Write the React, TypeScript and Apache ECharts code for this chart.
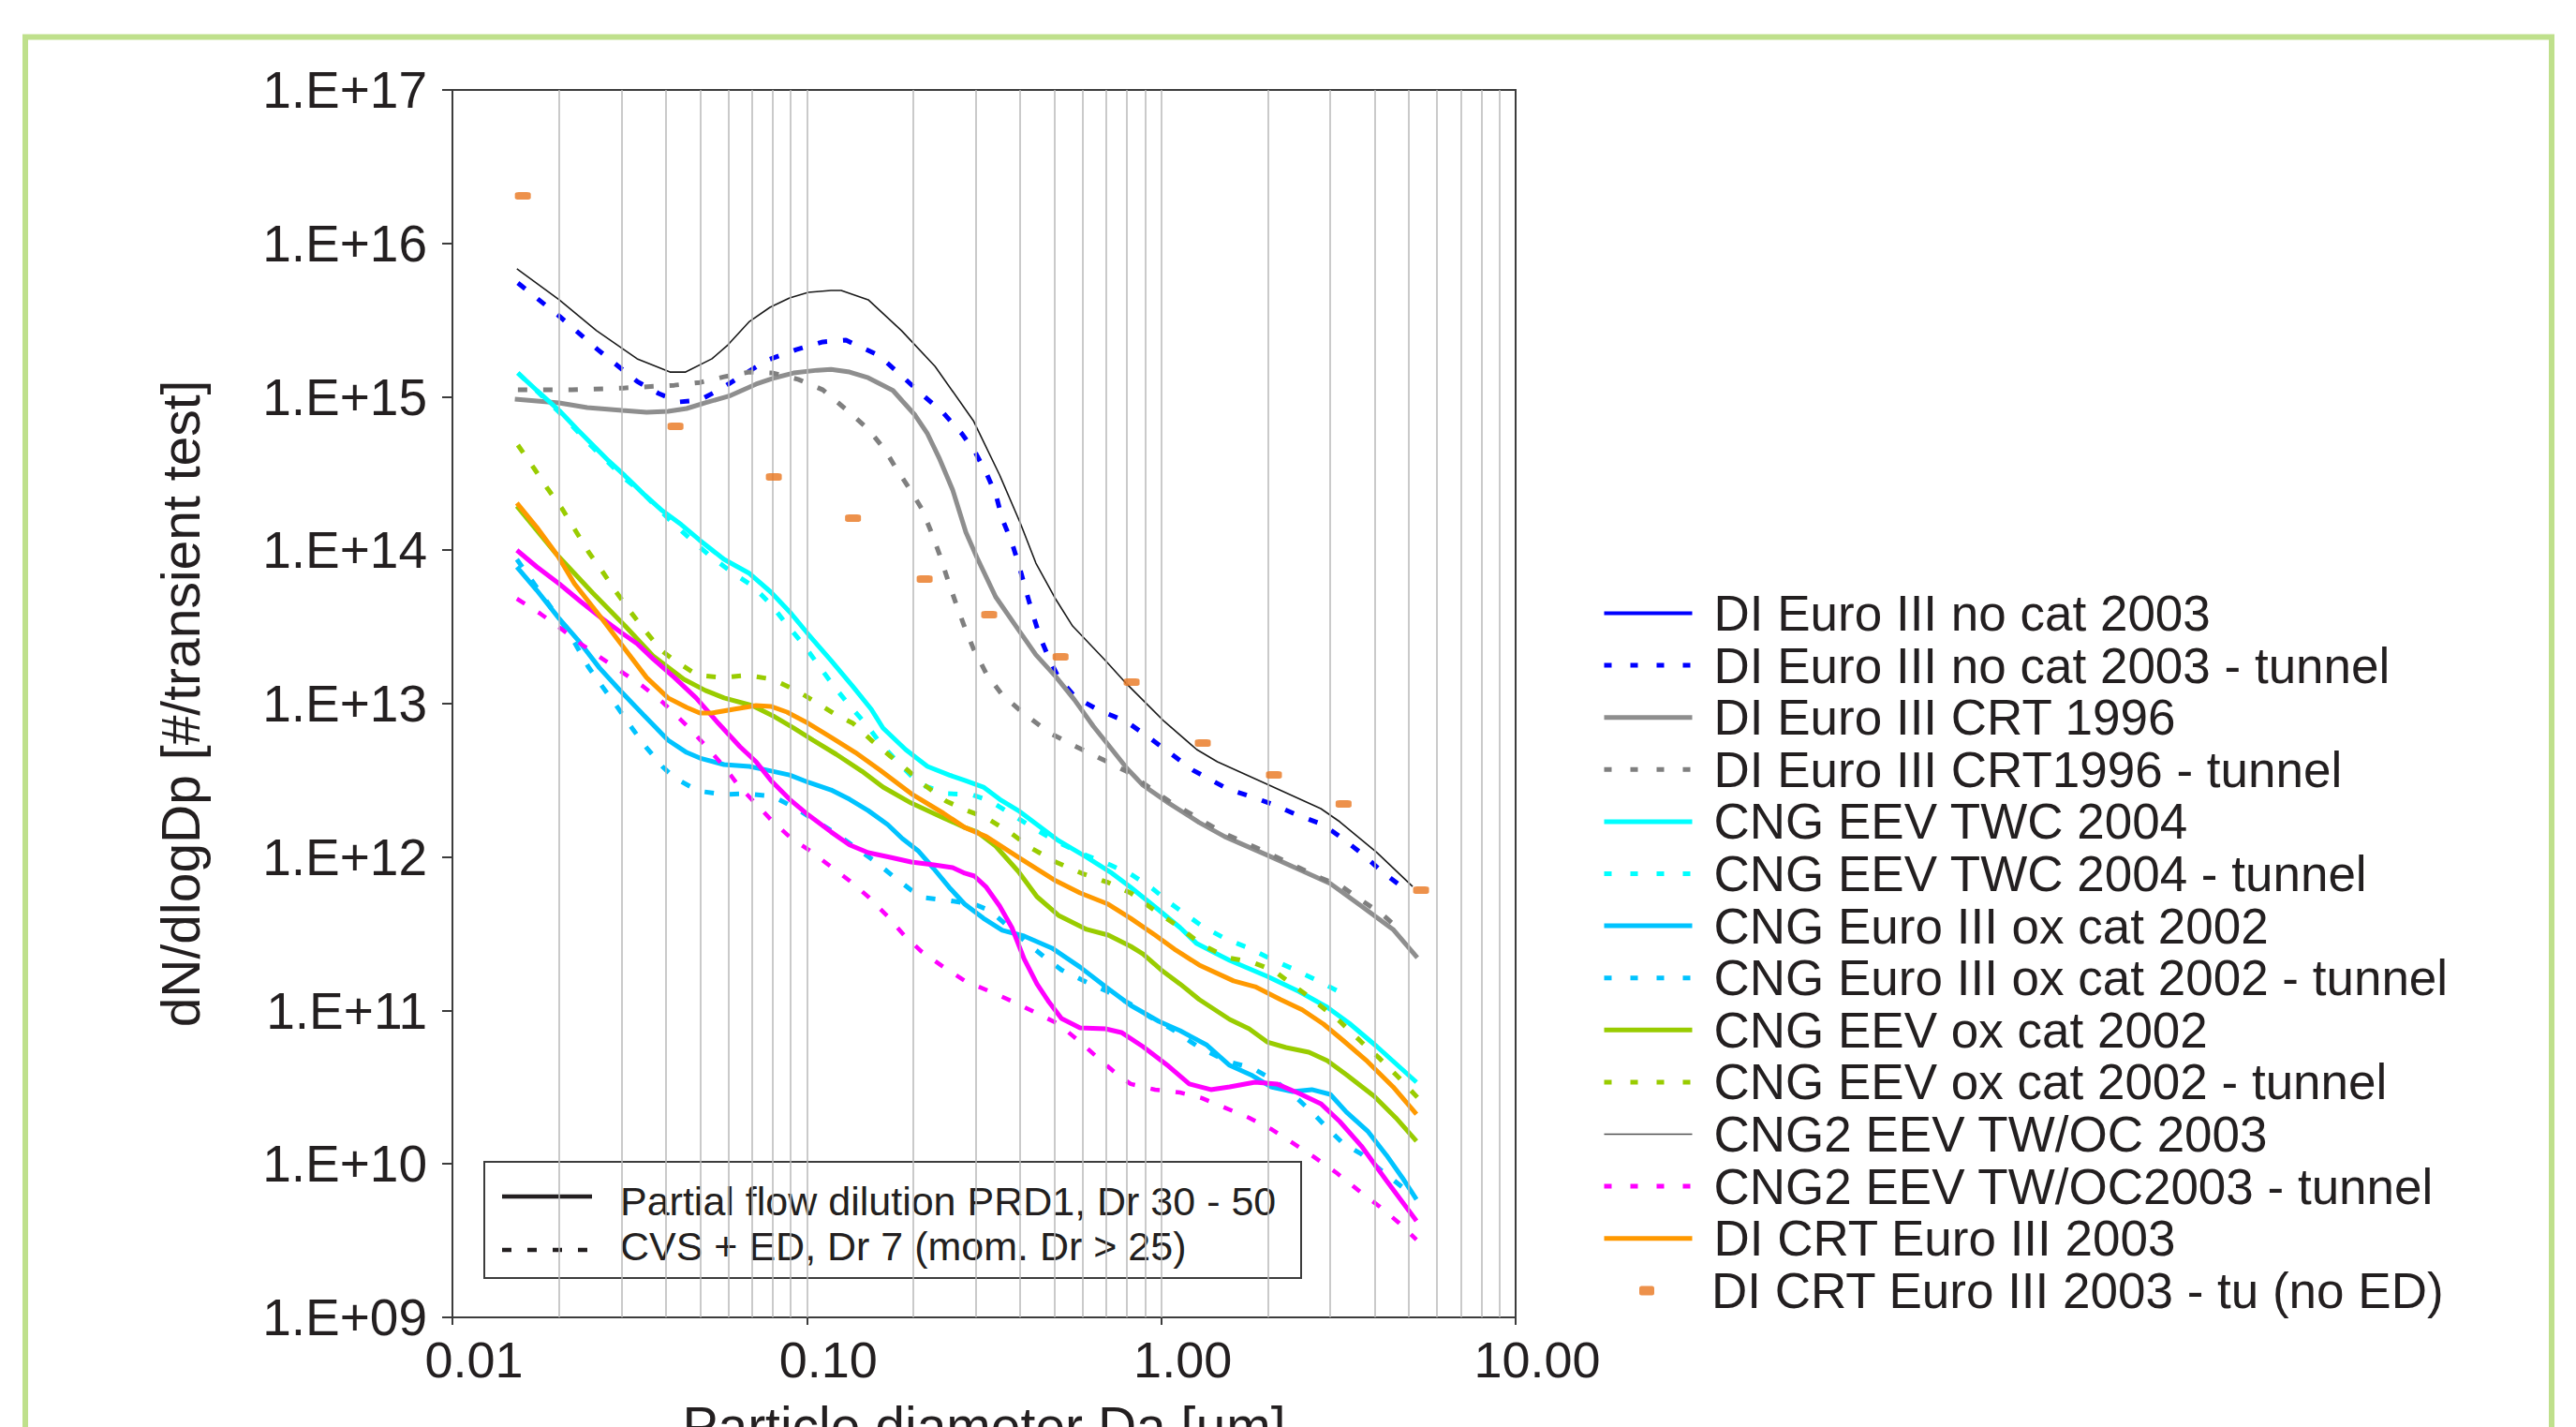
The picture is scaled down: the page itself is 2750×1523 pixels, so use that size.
import React, { useEffect, useRef } from "react";
import * as echarts from "echarts";

const FONT = "'Liberation Sans', Arial, Helvetica, sans-serif";
const INK = "#231f20";
const AXIS = "#3c3c3c";

const N1 = "DI Euro III no cat 2003";
const N2 = "DI Euro III no cat 2003 - tunnel";
const N3 = "DI Euro III CRT 1996";
const N4 = "DI Euro III CRT1996 - tunnel";
const N5 = "CNG EEV TWC 2004";
const N6 = "CNG EEV TWC 2004 - tunnel";
const N7 = "CNG Euro III ox cat 2002";
const N8 = "CNG Euro III ox cat 2002 - tunnel";
const N9 = "CNG EEV ox cat 2002";
const N10 = "CNG EEV ox cat 2002 - tunnel";
const N11 = "CNG2 EEV TW/OC 2003";
const N12 = "CNG2 EEV TW/OC2003 - tunnel";
const N13 = "DI CRT Euro III 2003";
const N14 = "DI CRT Euro III 2003 - tu (no ED)";

// x: particle diameter [um], y: dN/dlogDp [#/transient test]
const noCatX = [0.0152, 0.02, 0.0255, 0.0332, 0.0411, 0.0455, 0.054, 0.0599, 0.0689, 0.0787, 0.0894, 0.101, 0.117, 0.125, 0.149, 0.185, 0.23, 0.295, 0.35, 0.4, 0.443, 0.501, 0.562, 0.696, 0.8, 1.02, 1.26, 1.44, 1.99, 2.82, 3.19, 4.06, 5.12];
const noCatY = [6.82e15, 4.29e15, 2.7e15, 1.77e15, 1.45e15, 1.45e15, 1.77e15, 2.18e15, 3.1e15, 3.83e15, 4.41e15, 4.8e15, 4.93e15, 4.93e15, 4.29e15, 2.7e15, 1.58e15, 6.99e14, 3.09e14, 1.51e14, 8.24e13, 4.9e13, 3.21e13, 1.91e13, 1.34e13, 7.66e12, 5.02e12, 4.18e12, 2.98e12, 2.07e12, 1.7e12, 1.07e12, 6.44e11];

const noCatTunX = [0.0153, 0.0201, 0.0257, 0.0332, 0.0382, 0.0436, 0.0499, 0.0574, 0.066, 0.0777, 0.0934, 0.111, 0.129, 0.136, 0.159, 0.179, 0.202, 0.243, 0.274, 0.299, 0.321, 0.341, 0.356, 0.379, 0.398, 0.415, 0.433, 0.454, 0.483, 0.513, 0.573, 0.667, 0.796, 0.932, 1.07, 1.23, 1.54, 1.82, 2.08, 2.42, 2.86, 3.25, 3.71, 4.19, 4.79];
const noCatTunY = [5.52e15, 3.33e15, 2.03e15, 1.26e15, 1.05e15, 9.26e14, 9.52e14, 1.13e15, 1.39e15, 1.74e15, 2.03e15, 2.28e15, 2.34e15, 2.21e15, 1.87e15, 1.47e15, 1.14e15, 7.82e14, 5.74e14, 4.33e14, 3.18e14, 2.33e14, 1.6e14, 1.12e14, 7.79e13, 5.48e13, 3.91e13, 2.75e13, 1.96e13, 1.48e13, 1.1e13, 9.06e12, 7.66e12, 5.94e12, 4.68e12, 3.68e12, 2.78e12, 2.45e12, 2.19e12, 1.88e12, 1.63e12, 1.32e12, 1.04e12, 8.07e11, 6.36e11];

const crtX = [0.015, 0.02, 0.024, 0.0301, 0.0353, 0.0406, 0.0458, 0.0517, 0.061, 0.0719, 0.0812, 0.0917, 0.107, 0.117, 0.132, 0.149, 0.175, 0.186, 0.202, 0.219, 0.237, 0.258, 0.281, 0.302, 0.341, 0.395, 0.443, 0.504, 0.569, 0.643, 0.709, 0.8, 0.888, 1.05, 1.28, 1.51, 1.99, 2.45, 3.0, 3.67, 4.51, 5.28];
const crtY = [9.65e14, 9.13e14, 8.51e14, 8.15e14, 7.93e14, 8.04e14, 8.39e14, 9.13e14, 1.02e15, 1.21e15, 1.33e15, 1.43e15, 1.49e15, 1.51e15, 1.45e15, 1.33e15, 1.1e15, 9.39e14, 7.6e14, 5.74e14, 3.93e14, 2.47e14, 1.31e14, 8.97e13, 4.97e13, 3.04e13, 2.08e13, 1.5e13, 1.06e13, 7.14e12, 5.39e12, 3.79e12, 2.94e12, 2.25e12, 1.68e12, 1.36e12, 1.03e12, 8.3e11, 6.72e11, 4.8e11, 3.38e11, 2.21e11];

const crtTunX = [0.0153, 0.0217, 0.0303, 0.0423, 0.0499, 0.0584, 0.0689, 0.0802, 0.0945, 0.111, 0.129, 0.149, 0.166, 0.18, 0.196, 0.211, 0.224, 0.237, 0.25, 0.263, 0.278, 0.295, 0.321, 0.356, 0.405, 0.483, 0.576, 0.687, 0.796, 1.05, 1.51, 1.99, 2.82, 3.23, 3.71, 4.24, 4.79];
const crtTunY = [1.11e15, 1.11e15, 1.14e15, 1.19e15, 1.24e15, 1.35e15, 1.45e15, 1.43e15, 1.3e15, 1.11e15, 8.27e14, 6.16e14, 4.52e14, 3.32e14, 2.47e14, 1.86e14, 1.33e14, 9.35e13, 6.4e13, 4.56e13, 3.21e13, 2.29e13, 1.57e13, 1.14e13, 8.81e12, 6.47e12, 5.24e12, 4.3e12, 3.63e12, 2.32e12, 1.42e12, 1.07e12, 7.31e11, 6.44e11, 5.15e11, 4.17e11, 3.24e11];

const twcX = [0.0153, 0.0173, 0.02, 0.0226, 0.0276, 0.0307, 0.0346, 0.0391, 0.0442, 0.0499, 0.0584, 0.0689, 0.0792, 0.0894, 0.101, 0.117, 0.135, 0.152, 0.164, 0.19, 0.219, 0.252, 0.279, 0.315, 0.35, 0.395, 0.446, 0.513, 0.616, 0.726, 0.82, 0.961, 1.13, 1.26, 1.56, 1.99, 2.45, 2.94, 3.39, 4.06, 5.25];
const twcY = [1.43e15, 1.1e15, 8.15e14, 6.07e14, 3.82e14, 3.05e14, 2.33e14, 1.81e14, 1.47e14, 1.16e14, 8.72e13, 7.06e13, 5.33e13, 3.97e13, 2.83e13, 1.91e13, 1.29e13, 9.19e12, 6.94e12, 5.02e12, 3.9e12, 3.43e12, 3.16e12, 2.86e12, 2.38e12, 2.01e12, 1.63e12, 1.28e12, 9.97e11, 7.85e11, 6.36e11, 4.73e11, 3.47e11, 2.73e11, 2.12e11, 1.67e11, 1.33e11, 1.05e11, 8.27e10, 5.82e10, 3.41e10];

const twcTunX = [0.0153, 0.02, 0.0245, 0.0305, 0.0348, 0.0391, 0.0423, 0.0478, 0.054, 0.0621, 0.0701, 0.0792, 0.0879, 0.0974, 0.107, 0.118, 0.132, 0.147, 0.161, 0.179, 0.197, 0.212, 0.25, 0.291, 0.329, 0.379, 0.433, 0.504, 0.605, 0.717, 0.82, 0.943, 1.07, 1.3, 1.52, 1.77, 2.08, 2.39, 2.77, 3.13];
const twcTunY = [1.43e15, 7.93e14, 4.85e14, 2.96e14, 2.3e14, 1.76e14, 1.47e14, 1.14e14, 8.97e13, 7.06e13, 5.88e13, 4.44e13, 3.26e13, 2.46e13, 1.83e13, 1.34e13, 9.72e12, 7.34e12, 5.54e12, 4.24e12, 3.39e12, 2.94e12, 2.59e12, 2.56e12, 2.32e12, 1.9e12, 1.56e12, 1.27e12, 1.04e12, 8.9e11, 7.74e11, 6.26e11, 4.93e11, 3.57e11, 2.93e11, 2.55e11, 2.12e11, 1.84e11, 1.56e11, 1.35e11];

const oxX = [0.0152, 0.0173, 0.02, 0.0226, 0.026, 0.0299, 0.0346, 0.0406, 0.0458, 0.0499, 0.0584, 0.0689, 0.0777, 0.0894, 0.101, 0.117, 0.132, 0.149, 0.169, 0.186, 0.206, 0.228, 0.252, 0.279, 0.315, 0.356, 0.41, 0.492, 0.59, 0.696, 0.82, 0.984, 1.13, 1.34, 1.56, 1.81, 2.04, 2.35, 2.66, 3.0, 3.33, 3.82, 4.32, 4.79, 5.25];
const oxY = [7.79e13, 5.48e13, 3.59e13, 2.6e13, 1.71e13, 1.2e13, 8.45e12, 5.78e12, 4.81e12, 4.42e12, 4.01e12, 3.9e12, 3.68e12, 3.43e12, 3.07e12, 2.74e12, 2.38e12, 2.01e12, 1.63e12, 1.32e12, 1.1e12, 8.42e11, 6.36e11, 4.93e11, 3.99e11, 3.33e11, 3.06e11, 2.55e11, 1.92e11, 1.43e11, 1.08e11, 8.51e10, 7.39e10, 5.99e10, 4.39e10, 3.76e10, 3.18e10, 2.96e10, 3.05e10, 2.84e10, 2.18e10, 1.64e10, 1.14e10, 8.13e9, 5.88e9];

const oxTunX = [0.0152, 0.017, 0.0204, 0.0223, 0.0242, 0.0265, 0.029, 0.0318, 0.0353, 0.0391, 0.0423, 0.0493, 0.0581, 0.068, 0.0802, 0.0934, 0.121, 0.154, 0.175, 0.197, 0.215, 0.25, 0.297, 0.329, 0.42, 0.474, 0.523, 0.605, 0.696, 0.82, 0.926, 1.09, 1.28, 1.54, 1.81, 2.08, 2.35, 2.66, 3.0, 3.25, 3.67, 4.14, 4.79];
const oxTunY = [8.72e13, 6.05e13, 3.35e13, 2.42e13, 1.73e13, 1.29e13, 9.72e12, 7.14e12, 5.16e12, 3.9e12, 3.29e12, 2.7e12, 2.56e12, 2.59e12, 2.49e12, 2.07e12, 1.42e12, 9.55e11, 7.52e11, 6.09e11, 5.44e11, 5.22e11, 4.93e11, 4.47e11, 2.73e11, 2.18e11, 1.84e11, 1.56e11, 1.35e11, 1.1e11, 9.13e10, 7.39e10, 5.74e10, 4.65e10, 4.21e10, 3.51e10, 2.84e10, 2.18e10, 1.64e10, 1.37e10, 1.16e10, 9.22e9, 7.06e9];

const eevX = [0.0152, 0.0195, 0.0249, 0.0307, 0.0368, 0.045, 0.0517, 0.0584, 0.0701, 0.0812, 0.0917, 0.104, 0.121, 0.143, 0.164, 0.197, 0.243, 0.279, 0.302, 0.341, 0.395, 0.446, 0.513, 0.616, 0.709, 0.82, 0.888, 1.0, 1.13, 1.28, 1.56, 1.77, 1.99, 2.25, 2.61, 2.94, 3.33, 3.99, 4.59, 5.25];
const eevY = [1.94e14, 9.62e13, 5.26e13, 3.21e13, 2.05e13, 1.44e13, 1.22e13, 1.09e13, 9.72e12, 8.21e12, 6.94e12, 5.78e12, 4.68e12, 3.63e12, 2.86e12, 2.25e12, 1.8e12, 1.56e12, 1.46e12, 1.18e12, 8.07e11, 5.52e11, 4.17e11, 3.38e11, 3.1e11, 2.62e11, 2.34e11, 1.84e11, 1.49e11, 1.18e11, 8.75e10, 7.6e10, 6.24e10, 5.74e10, 5.35e10, 4.71e10, 3.82e10, 2.76e10, 2.0e10, 1.41e10];

const eevTunX = [0.0153, 0.017, 0.0186, 0.0204, 0.0223, 0.0242, 0.0265, 0.029, 0.0318, 0.0353, 0.0391, 0.0423, 0.0493, 0.0574, 0.068, 0.0802, 0.0934, 0.107, 0.121, 0.135, 0.152, 0.172, 0.194, 0.215, 0.247, 0.283, 0.321, 0.379, 0.428, 0.504, 0.605, 0.709, 0.82, 0.961, 1.11, 1.3, 1.54, 1.81, 2.08, 2.39, 2.7, 3.19, 3.67, 4.14, 4.68, 5.28];
const eevTunY = [4.85e14, 3.41e14, 2.5e14, 1.86e14, 1.33e14, 9.76e13, 7.26e13, 5.33e13, 3.97e13, 2.91e13, 2.2e13, 1.91e13, 1.53e13, 1.48e13, 1.53e13, 1.44e13, 1.22e13, 1.01e13, 8.45e12, 7.44e12, 5.78e12, 4.55e12, 3.63e12, 2.94e12, 2.32e12, 2.01e12, 1.8e12, 1.42e12, 1.15e12, 9.29e11, 7.74e11, 6.82e11, 5.84e11, 4.47e11, 3.57e11, 2.69e11, 2.21e11, 2.06e11, 1.82e11, 1.43e11, 1.16e11, 8.51e10, 6.24e10, 4.85e10, 3.66e10, 2.72e10];

const cng2X = [0.0152, 0.0173, 0.02, 0.023, 0.026, 0.0299, 0.0332, 0.0368, 0.0423, 0.0487, 0.0563, 0.0648, 0.0719, 0.0792, 0.0894, 0.101, 0.117, 0.132, 0.149, 0.172, 0.197, 0.228, 0.258, 0.279, 0.297, 0.321, 0.35, 0.379, 0.41, 0.446, 0.483, 0.523, 0.59, 0.696, 0.772, 0.888, 1.05, 1.2, 1.38, 1.56, 1.84, 2.12, 2.45, 2.82, 3.19, 3.67, 4.32, 5.25];
const cng2Y = [1.0e14, 7.79e13, 6.05e13, 4.63e13, 3.7e13, 2.91e13, 2.46e13, 1.96e13, 1.48e13, 1.09e13, 7.44e12, 5.24e12, 4.18e12, 3.16e12, 2.38e12, 1.88e12, 1.46e12, 1.2e12, 1.07e12, 9.97e11, 9.29e11, 8.9e11, 8.54e11, 7.85e11, 7.52e11, 6.36e11, 4.8e11, 3.47e11, 2.18e11, 1.49e11, 1.13e11, 8.87e10, 7.71e10, 7.6e10, 7.19e10, 5.82e10, 4.33e10, 3.32e10, 3.05e10, 3.18e10, 3.41e10, 3.32e10, 2.88e10, 2.47e10, 1.89e10, 1.31e10, 7.79e9, 4.26e9];

const cng2TunX = [0.0152, 0.0177, 0.0204, 0.023, 0.0265, 0.0303, 0.0346, 0.0394, 0.0469, 0.0524, 0.0584, 0.064, 0.0719, 0.0802, 0.0906, 0.102, 0.117, 0.132, 0.15, 0.169, 0.188, 0.21, 0.243, 0.279, 0.329, 0.386, 0.449, 0.513, 0.59, 0.667, 0.753, 0.82, 0.961, 1.13, 1.3, 1.51, 1.77, 2.04, 2.35, 2.7, 3.13, 3.67, 4.14, 4.68, 5.25];
const cng2TunY = [4.83e13, 3.86e13, 3.04e13, 2.46e13, 1.96e13, 1.59e13, 1.29e13, 1.01e13, 6.84e12, 5.16e12, 3.9e12, 2.94e12, 2.22e12, 1.7e12, 1.32e12, 1.1e12, 8.66e11, 7.01e11, 5.44e11, 4.11e11, 3.1e11, 2.44e11, 1.92e11, 1.56e11, 1.33e11, 1.13e11, 9.52e10, 8.16e10, 6.24e10, 4.85e10, 3.82e10, 3.32e10, 3.05e10, 2.92e10, 2.69e10, 2.33e10, 2.0e10, 1.69e10, 1.37e10, 1.11e10, 8.72e9, 6.49e9, 5.26e9, 4.14e9, 3.21e9];

const diCrtX = [0.0152, 0.0173, 0.0198, 0.0221, 0.026, 0.0307, 0.0353, 0.0406, 0.0458, 0.0499, 0.054, 0.0621, 0.0719, 0.0792, 0.0879, 0.101, 0.117, 0.137, 0.161, 0.197, 0.243, 0.279, 0.321, 0.395, 0.504, 0.59, 0.709, 0.82, 0.961, 1.09, 1.28, 1.6, 1.84, 2.17, 2.5, 2.87, 3.25, 3.82, 4.51, 5.25];
const diCrtY = [2.03e14, 1.41e14, 9.22e13, 6.05e13, 3.75e13, 2.26e13, 1.48e13, 1.09e13, 9.45e12, 8.69e12, 8.69e12, 9.19e12, 9.72e12, 9.59e12, 8.81e12, 7.44e12, 6.03e12, 4.81e12, 3.68e12, 2.59e12, 1.93e12, 1.56e12, 1.36e12, 9.97e11, 7.01e11, 5.84e11, 4.93e11, 3.99e11, 3.1e11, 2.51e11, 1.98e11, 1.56e11, 1.43e11, 1.18e11, 1.01e11, 8.16e10, 6.42e10, 4.65e10, 3.18e10, 2.11e10];

const noEdX = [0.0158, 0.0426, 0.0807, 0.135, 0.215, 0.327, 0.52, 0.825, 1.31, 2.08, 3.27, 5.41];
const noEdY = [2.04e16, 6.42e14, 3.0e14, 1.62e14, 6.49e13, 3.8e13, 2.02e13, 1.38e13, 5.54e12, 3.43e12, 2.22e12, 6.09e11];

// vertical grid lines of the log x axis
const xGridValues = [0.02, 0.03, 0.04, 0.05, 0.06, 0.07, 0.08, 0.09, 0.1, 0.2, 0.3, 0.4, 0.5, 0.6, 0.7, 0.8, 0.9, 1, 2, 3, 4, 5, 6, 7, 8, 9];

const DASH = [10, 17];
const LEG_DASH = [8, 20];

function pairs(xs: number[], ys: number[]) {
  return xs.map((x, i) => [x, ys[i]]);
}

function lineSeries(name: string, xs: number[], ys: number[], color: string, width: number, dashed: boolean, z = 3) {
  return {
    name,
    type: "line",
    data: pairs(xs, ys),
    symbol: "none",
    showSymbol: false,
    smooth: false,
    silent: true,
    z,
    lineStyle: { color, width, type: dashed ? DASH : "solid" },
    itemStyle: { color },
    emphasis: { disabled: true },
  };
}

export default function App() {
  const ref = useRef<HTMLDivElement>(null);

  useEffect(() => {
    if (!ref.current) return;
    const chart = echarts.init(ref.current, null, { renderer: "svg" });

    const legendLine = (name: string, color: string, width: number, dashed: boolean) => ({
      name,
      itemStyle: { color: "rgba(0,0,0,0)", borderColor: "rgba(0,0,0,0)", borderWidth: 0, opacity: 0 },
      lineStyle: { color, width, type: dashed ? LEG_DASH : "solid", opacity: 1 },
    });

    const option: any = {
      animation: false,
      backgroundColor: "#ffffff",
      grid: {
        left: 483,
        top: 96,
        width: 1135,
        height: 1310,
        show: true,
        borderColor: AXIS,
        borderWidth: 2,
        backgroundColor: "transparent",
        containLabel: false,
        outerBoundsMode: "none",
      },
      xAxis: {
        type: "log",
        logBase: 10,
        min: 0.01,
        max: 10,
        axisLine: { show: true, onZero: false, lineStyle: { color: AXIS, width: 2 } },
        axisTick: { show: true, length: 8, lineStyle: { color: AXIS, width: 2 } },
        splitLine: { show: false },
        axisLabel: {
          formatter: (v: number) => v.toFixed(2),
          fontSize: 54,
          fontFamily: FONT,
          color: INK,
          margin: 18,
          padding: [0, 0, 0, 46],
        },
        name: "Particle diameter Da [µm]",
        nameLocation: "middle",
        nameGap: 87,
        nameTextStyle: { fontSize: 57, fontFamily: FONT, color: INK },
      },
      yAxis: {
        type: "log",
        logBase: 10,
        min: 1e9,
        max: 1e17,
        splitNumber: 8,
        axisLine: { show: true, onZero: false, lineStyle: { color: AXIS, width: 2 } },
        axisTick: { show: true, length: 11, lineStyle: { color: AXIS, width: 2 } },
        splitLine: { show: false },
        axisLabel: {
          formatter: (v: number) => "1.E+" + String(Math.round(Math.log10(v))).padStart(2, "0"),
          fontSize: 55,
          fontFamily: FONT,
          color: INK,
          margin: 27,
          padding: [0, 0, 7, 0],
        },
        name: "dN/dlogDp [#/transient test]",
        nameLocation: "middle",
        nameGap: 262,
        nameTextStyle: { fontSize: 57, fontFamily: FONT, color: INK },
      },
      legend: [
        {
          orient: "vertical",
          left: 1705,
          top: 623,
          itemWidth: 94,
          itemHeight: 14,
          itemGap: 2.6,
          selectedMode: false,
          textStyle: { fontSize: 53, fontFamily: FONT, color: INK, lineHeight: 53, padding: [0, 0, 0, 18] },
          data: [
            legendLine(N1, "#0000ff", 4, false),
            legendLine(N2, "#0000ff", 5, true),
            legendLine(N3, "#8e8e8e", 5, false),
            legendLine(N4, "#7f7f7f", 5, true),
            legendLine(N5, "#00ffff", 5, false),
            legendLine(N6, "#00ffff", 5, true),
            legendLine(N7, "#00c3ff", 5, false),
            legendLine(N8, "#00c3ff", 5, true),
            legendLine(N9, "#99cc00", 5, false),
            legendLine(N10, "#99cc00", 5, true),
            legendLine(N11, "#505050", 1.5, false),
            legendLine(N12, "#ff00ff", 5, true),
            legendLine(N13, "#ff9900", 5, false),
          ],
        },
        {
          orient: "vertical",
          left: 1745,
          top: 1346,
          itemWidth: 16,
          itemHeight: 10,
          selectedMode: false,
          textStyle: { fontSize: 53, fontFamily: FONT, color: INK, lineHeight: 53, padding: [0, 0, 0, 56] },
          data: [{ name: N14, icon: "roundRect", itemStyle: { color: "#e8761e" } }],
        },
      ],
      series: [
        {
          name: "gridlines",
          type: "line",
          data: [],
          silent: true,
          z: 1,
          markLine: {
            silent: true,
            symbol: ["none", "none"],
            label: { show: false },
            emphasis: { disabled: true },
            lineStyle: { color: "#b9b9b9", width: 1.5, type: "solid" },
            data: xGridValues.map((v) => ({ xAxis: v })),
          },
        },
        lineSeries(N1, noCatX, noCatY, "#1a1a1a", 1.6, false),
        lineSeries(N2, noCatTunX, noCatTunY, "#0000ff", 5, true),
        lineSeries(N3, crtX, crtY, "#8e8e8e", 5, false),
        lineSeries(N4, crtTunX, crtTunY, "#7f7f7f", 5, true),
        lineSeries(N5, twcX, twcY, "#00ffff", 5, false),
        lineSeries(N6, twcTunX, twcTunY, "#00ffff", 5, true),
        lineSeries(N7, oxX, oxY, "#00c3ff", 5, false),
        lineSeries(N8, oxTunX, oxTunY, "#00c3ff", 5, true),
        lineSeries(N9, eevX, eevY, "#99cc00", 5, false),
        lineSeries(N10, eevTunX, eevTunY, "#99cc00", 5, true),
        lineSeries(N11, cng2X, cng2Y, "#ff00ff", 5, false),
        lineSeries(N12, cng2TunX, cng2TunY, "#ff00ff", 4.5, true),
        lineSeries(N13, diCrtX, diCrtY, "#ff9900", 5, false),
        {
          name: N14,
          type: "scatter",
          data: pairs(noEdX, noEdY),
          symbol: "roundRect",
          symbolSize: [17, 8],
          itemStyle: { color: "#e8761e" },
          silent: true,
          z: 5,
        },
      ],
      graphic: [
        {
          type: "rect",
          silent: true,
          z: -10,
          shape: { x: 27, y: 39.5, width: 2697, height: 1700 },
          style: { fill: "none", stroke: "#bfe08c", lineWidth: 6 },
        },
        {
          type: "group",
          z: 100,
          silent: true,
          children: [
            {
              type: "rect",
              shape: { x: 517, y: 1240, width: 872, height: 124 },
              style: { fill: "#ffffff", stroke: AXIS, lineWidth: 2 },
            },
            {
              type: "line",
              shape: { x1: 536, y1: 1277, x2: 632, y2: 1277 },
              style: { stroke: INK, lineWidth: 4.5 },
            },
            {
              type: "line",
              shape: { x1: 536, y1: 1334, x2: 632, y2: 1334 },
              style: { stroke: INK, lineWidth: 4.5, lineDash: [10, 17] },
            },
            {
              type: "text",
              x: 662,
              y: 1282,
              style: {
                text: "Partial flow dilution PRD1, Dr 30 - 50",
                fontSize: 43,
                fontFamily: FONT,
                fill: INK,
                verticalAlign: "middle",
                textVerticalAlign: "middle",
              },
            },
            {
              type: "text",
              x: 662,
              y: 1330,
              style: {
                text: "CVS + ED, Dr 7 (mom. Dr > 25)",
                fontSize: 43,
                fontFamily: FONT,
                fill: INK,
                verticalAlign: "middle",
                textVerticalAlign: "middle",
              },
            },
          ],
        },
      ],
    };

    chart.setOption(option);
    return () => chart.dispose();
  }, []);

  return (
    <div
      ref={ref}
      style={{ position: "absolute", left: 0, top: 0, width: 2750, height: 1523, background: "#ffffff" }}
    />
  );
}
